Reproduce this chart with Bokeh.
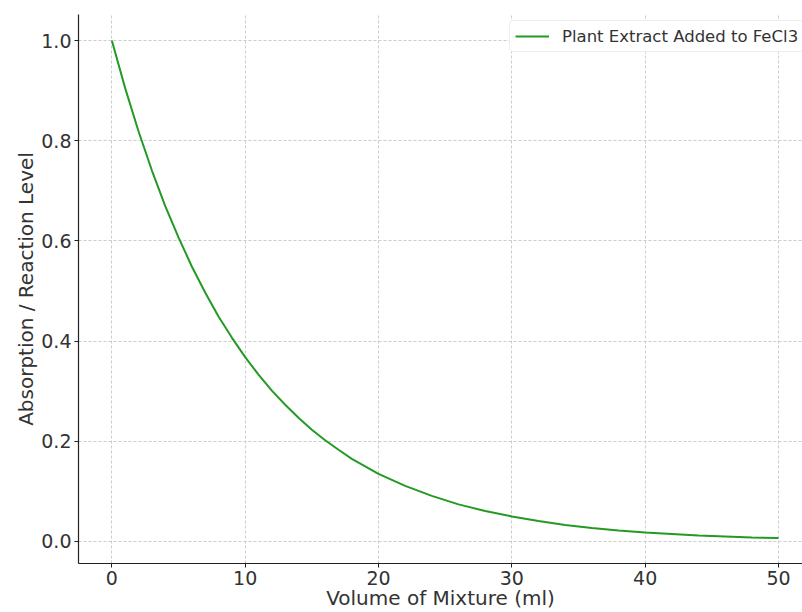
from bokeh.plotting import figure
from bokeh.models import Range1d, FixedTicker, Legend, LegendItem, NumeralTickFormatter
from bokeh.embed import file_html
from bokeh.resources import INLINE

# Data
volume_ml = [0, 1, 2, 3, 4, 5, 6, 7, 8, 9, 10, 11, 12, 13, 14, 15, 16, 17, 18, 19, 20,
             22, 24, 26, 28, 30, 32, 34, 36, 38, 40, 42, 44, 46, 48, 50]
reaction_level = [1.000, 0.905, 0.819, 0.741, 0.670, 0.607, 0.549, 0.497, 0.449, 0.407,
                  0.368, 0.333, 0.301, 0.273, 0.247, 0.223, 0.202, 0.183, 0.165, 0.150,
                  0.135, 0.111, 0.091, 0.074, 0.061, 0.050, 0.041, 0.033, 0.027, 0.022,
                  0.018, 0.015, 0.012, 0.010, 0.008, 0.007]
series_label = "Plant Extract Added to FeCl3"
x_ticks = [0, 10, 20, 30, 40, 50]
y_ticks = [0.0, 0.2, 0.4, 0.6, 0.8, 1.0]

FONT = "DejaVu Sans"
TXT = "#333333"

p = figure(width=802, height=612, output_backend="svg", toolbar_location=None,
           x_range=Range1d(-2.5, 51.8), y_range=Range1d(-0.044, 1.052),
           min_border_left=78, min_border_right=0, min_border_top=14, min_border_bottom=49)
p.outline_line_color = None
p.background_fill_color = "white"
p.border_fill_color = "white"

r = p.line(volume_ml, reaction_level, line_color="#239a23", line_width=2)

for ax in (p.xaxis[0], p.yaxis[0]):
    ax.axis_line_color = "#222222"
    ax.axis_line_width = 1.2
    ax.major_tick_line_color = "#222222"
    ax.major_tick_out = 4
    ax.major_tick_in = 0
    ax.minor_tick_line_color = None
    ax.major_label_text_font = FONT
    ax.major_label_text_font_size = "19px"
    ax.major_label_text_color = TXT
    ax.major_label_standoff = 3
    ax.axis_label_text_font = FONT
    ax.axis_label_text_font_size = "20px"
    ax.axis_label_text_font_style = "normal"
    ax.axis_label_text_color = TXT
    ax.axis_label_standoff = 0

p.xaxis[0].axis_label_standoff = -2
p.xaxis.ticker = FixedTicker(ticks=x_ticks)
p.yaxis.ticker = FixedTicker(ticks=y_ticks)
p.yaxis.formatter = NumeralTickFormatter(format="0.0")
p.xaxis.axis_label = "Volume of Mixture (ml)"
p.yaxis.axis_label = "Absorption / Reaction Level"

for g in (p.xgrid[0], p.ygrid[0]):
    g.grid_line_color = "#cccccc"
    g.grid_line_dash = "3 2"
    g.grid_line_width = 1

legend = Legend(items=[LegendItem(label=series_label, renderers=[r])],
                location=(431, 511))
legend.label_text_font = FONT
legend.label_text_font_size = "16.5px"
legend.label_text_color = TXT
legend.border_line_color = "#dddddd"
legend.border_radius = 4
legend.glyph_width = 34
legend.padding = 5
legend.spacing = 0
legend.margin = 0
legend.label_standoff = 13
p.add_layout(legend)

open("out.html", "w").write(file_html(p, INLINE))
